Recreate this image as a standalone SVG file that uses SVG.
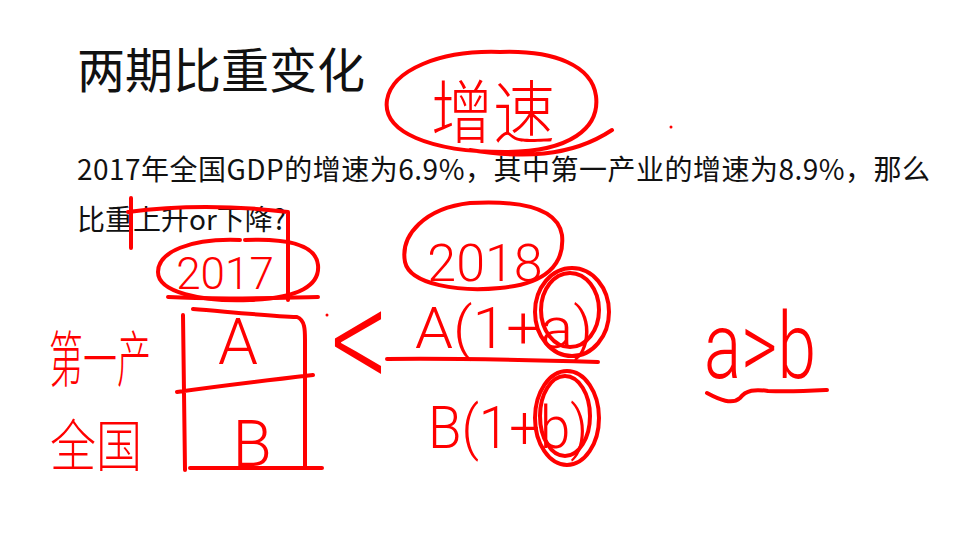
<svg xmlns="http://www.w3.org/2000/svg" width="966" height="552" viewBox="0 0 966 552">
<style>
.t{font-family:"Noto Sans CJK SC","Noto Sans",sans-serif;fill:#111111}
.h{font-family:"Noto Sans CJK SC","Noto Sans",sans-serif;fill:#ff0000;font-weight:300}
.l{font-family:Roboto,"Liberation Sans","Noto Sans CJK SC",sans-serif;fill:#ff0000;font-weight:300}
.s{fill:none;stroke:#ff0000;stroke-width:4;stroke-linecap:round;stroke-linejoin:round}
</style>
<rect width="966" height="552" fill="#ffffff"/>
<g id="title"><text class="t" x="77" y="88" font-size="48">两期比重变化</text></g>
<g id="question">
<text class="t" x="77" y="180" font-size="28" textLength="853" lengthAdjust="spacing">2017年全国GDP的增速为6.9%，其中第一产业的增速为8.9%，那么</text>
<text class="t" x="77" y="230" font-size="28">比重上升or下降?</text>
</g>
<g id="growth-note">
<text class="h" transform="translate(493,138) scale(1,1.12)" font-size="62" text-anchor="middle">增速</text>
<path class="s" d="M500,52 C440,50 392,70 387,100 C382,132 430,152 505,152 C570,152 600,128 596,96 C592,66 555,50 500,52 M470,150 C520,158 570,158 612,130"/>
<circle cx="671" cy="127" r="1.5" fill="#ff0000"/>
</g>
<g id="marks">
<path class="s" d="M131,198 L131,248 M128,212 C180,205 230,205 288,212 L288,300"/>
</g>
<g id="year2017">
<path class="s" d="M240,240 C190,238 158,252 158,272 C158,292 200,302 250,300 C300,298 320,285 318,265 C316,245 290,238 245,240"/>
<text class="l" x="225" y="289" font-size="44" text-anchor="middle">2017</text>
<path class="s" d="M168,297 C220,300 270,298 318,297"/>
</g>
<g id="box2017">
<path class="s" d="M193,309 C230,312 270,316 297,317 C305,320 305,330 305,340 L305,468 M183,315 L185,470 M190,468 L322,468 M177,392 C220,386 270,380 313,375"/>
<text class="l" x="238" y="364" font-size="64" text-anchor="middle">A</text>
<text class="l" x="252" y="466" font-size="64" text-anchor="middle">B</text>
<circle cx="327" cy="315" r="1.5" fill="#ff0000"/>
</g>
<g id="labels-left">
<text class="h" transform="translate(100,382) scale(1,1.8)" font-size="34" text-anchor="middle">第一产</text>
<text class="h" transform="translate(96,466) scale(1,1.2)" font-size="46" text-anchor="middle">全国</text>
</g>
<g id="compare"><text class="h" transform="translate(358,398) scale(1,1.5)" font-size="100" text-anchor="middle">&lt;</text></g>
<g id="year2018">
<path class="s" d="M470,203 C425,208 400,235 405,262 C410,285 460,292 500,288 C545,284 565,265 562,235 C558,210 525,200 470,203"/>
<text class="l" x="485" y="281" font-size="52" text-anchor="middle">2018</text>
</g>
<g id="fraction">
<text class="l" x="415" y="348" font-size="58" textLength="178" lengthAdjust="spacingAndGlyphs">A(1+a)</text>
<path class="s" d="M387,359 C450,358 530,360 598,362"/>
<text class="l" x="428" y="448" font-size="60" textLength="160" lengthAdjust="spacingAndGlyphs">B(1+b)</text>
<ellipse class="s" cx="572" cy="312" rx="37" ry="44"/>
<ellipse class="s" cx="570" cy="310" rx="29" ry="37"/>
<ellipse class="s" cx="567" cy="418" rx="32" ry="47"/>
<ellipse class="s" cx="565" cy="416" rx="25" ry="40"/>
</g>
<g id="result">
<text class="l" transform="translate(760,378) scale(1,1.45)" font-size="64" text-anchor="middle" textLength="112" lengthAdjust="spacingAndGlyphs">a&gt;b</text>
<path class="s" d="M707,393 C720,400 732,405 740,398 C746,390 755,389 768,391 C790,392 808,391 827,390"/>
</g>
</svg>
